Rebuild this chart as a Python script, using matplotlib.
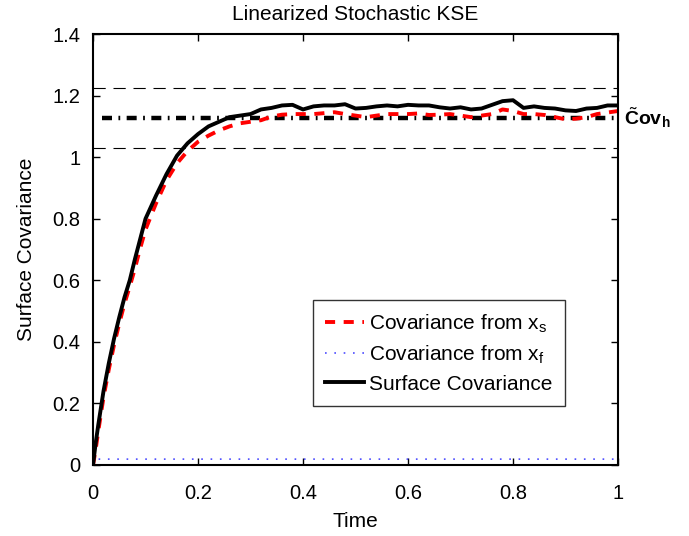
import numpy as np
import matplotlib
matplotlib.use('Agg')
import matplotlib.pyplot as plt

plt.rcParams['font.family'] = ['Liberation Sans', 'DejaVu Sans']
plt.rcParams['mathtext.fontset'] = 'custom'
plt.rcParams['mathtext.rm'] = 'Liberation Sans'
plt.rcParams['mathtext.it'] = 'Liberation Sans:italic'
plt.rcParams['mathtext.bf'] = 'Liberation Sans:bold'

# time samples
t = [0, 0.005, 0.01, 0.02, 0.03, 0.04, 0.05, 0.06, 0.07, 0.08, 0.09, 0.10,
     0.12, 0.14, 0.16, 0.18, 0.20, 0.22, 0.24, 0.26, 0.28, 0.30,
     0.32, 0.34, 0.36, 0.38, 0.40, 0.42, 0.44, 0.46, 0.48, 0.50,
     0.52, 0.54, 0.56, 0.58, 0.60, 0.62, 0.64, 0.66, 0.68, 0.70,
     0.72, 0.74, 0.76, 0.78, 0.80, 0.82, 0.84, 0.86, 0.88, 0.90,
     0.92, 0.94, 0.96, 0.98, 1.00]

surf_cov = [0, 0.07, 0.13, 0.24, 0.33, 0.41, 0.48, 0.545, 0.60, 0.67, 0.735, 0.80,
            0.875, 0.945, 1.005, 1.045, 1.075, 1.10, 1.115, 1.13, 1.135, 1.14,
            1.155, 1.16, 1.168, 1.17, 1.155, 1.165, 1.168, 1.168, 1.172, 1.158,
            1.16, 1.165, 1.168, 1.165, 1.17, 1.168, 1.168, 1.162, 1.158, 1.162,
            1.155, 1.158, 1.17, 1.182, 1.185, 1.16, 1.165, 1.16, 1.158, 1.152,
            1.15, 1.158, 1.16, 1.168, 1.168]

cov_xs = [0, 0.05, 0.11, 0.22, 0.31, 0.39, 0.46, 0.525, 0.58, 0.64, 0.705, 0.765,
          0.85, 0.925, 0.98, 1.02, 1.05, 1.07, 1.087, 1.10, 1.11, 1.115,
          1.12, 1.132, 1.138, 1.14, 1.14, 1.14, 1.143, 1.146, 1.14, 1.135,
          1.13, 1.135, 1.14, 1.14, 1.14, 1.142, 1.137, 1.138, 1.14, 1.135,
          1.13, 1.135, 1.14, 1.155, 1.15, 1.14, 1.14, 1.137, 1.13, 1.123,
          1.125, 1.13, 1.14, 1.145, 1.15]

cov_xf = [0] + [0.019] * (len(t) - 1)

cov_h = 1.127      # theoretical value
cov_band = [1.03, 1.224]
t_h = [0.017, 1.0]

fig = plt.figure(figsize=(6.89, 5.36), dpi=100)
ax = fig.add_axes([0.135, 0.1325, 0.762, 0.804])

# dashed band lines
for b in cov_band:
    ax.plot([0, 1], [b, b], color='k', lw=0.8, dashes=(11, 7))

# theoretical dash-dot line
ax.plot(t_h, [cov_h, cov_h], color='k', lw=3.2,
        dashes=(2.25, 1.45, 0.4, 1.45), dash_capstyle='butt')

l1, = ax.plot(t, cov_xs, color='red', lw=2.8, dashes=(2.6, 2.2),
              label='Covariance from x$_\\mathregular{s}$')
l2, = ax.plot(t, cov_xf, color='#4d4dff', lw=1.2, dashes=(1, 4.6),
              label='Covariance from x$_\\mathregular{f}$')
l3, = ax.plot(t, surf_cov, color='k', lw=2.8, label='Surface Covariance')

ax.set_xlim(0, 1)
ax.set_ylim(0, 1.4)
ax.set_xticks([0, 0.2, 0.4, 0.6, 0.8, 1])
ax.set_xticklabels(['0', '0.2', '0.4', '0.6', '0.8', '1'])
ax.set_yticks([0, 0.2, 0.4, 0.6, 0.8, 1, 1.2, 1.4])
ax.set_yticklabels(['0', '0.2', '0.4', '0.6', '0.8', '1', '1.2', '1.4'])
ax.tick_params(direction='in', top=True, right=True, length=5, width=1,
               labelsize=14.5)
ax.tick_params(axis='x', pad=14)
ax.tick_params(axis='y', pad=9)
for s in ax.spines.values():
    s.set_linewidth(1.5)

ax.set_xlabel('Time', fontsize=15, labelpad=6)
ax.set_ylabel('Surface Covariance', fontsize=15, labelpad=12)
ax.set_title('Linearized Stochastic KSE', fontsize=15, pad=10)

ax.text(1.012, cov_h, r'$\tilde{\mathbf{C}}\mathbf{ov}_\mathbf{h}$',
        transform=ax.get_yaxis_transform(), fontsize=14,
        va='center', ha='left')

leg = ax.legend(handles=[l1, l2, l3], loc='upper left',
                bbox_to_anchor=(0.419, 0.383), fontsize=15, frameon=True,
                fancybox=False, edgecolor='k', borderpad=0.6,
                handlelength=1.85, handletextpad=0.25, labelspacing=0.42,
                borderaxespad=0)
leg.get_frame().set_linewidth(1.0)

fig.savefig('out.png', dpi=100)
